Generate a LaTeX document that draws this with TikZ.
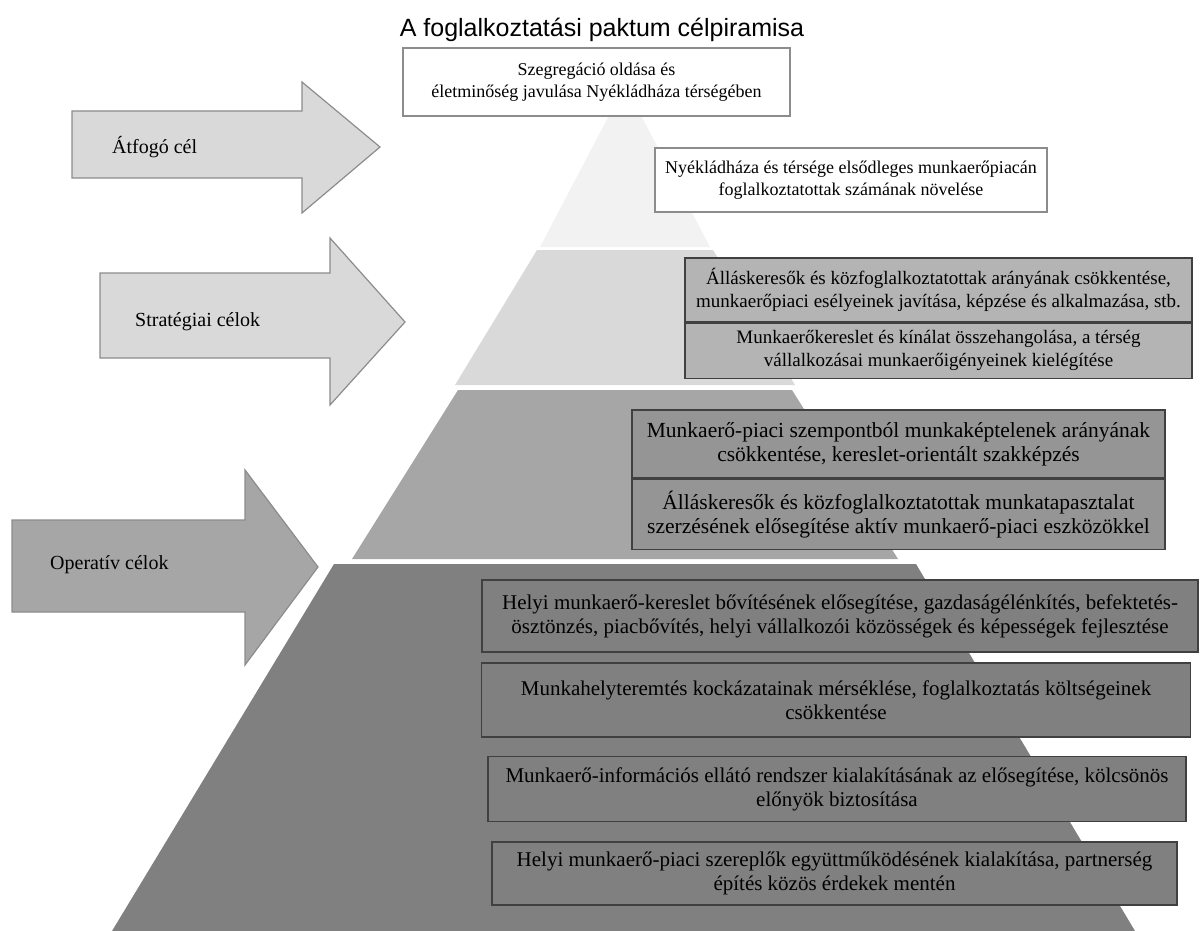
\documentclass[tikz,border=0pt]{standalone}
\usepackage{fontspec}
\setmainfont{Liberation Serif}
\newfontfamily\titlefont{Liberation Sans}
\usetikzlibrary{positioning}
\definecolor{cpTierA}{HTML}{F2F2F2}
\definecolor{cpTierB}{HTML}{D9D9D9}
\definecolor{cpTierC}{HTML}{A6A6A6}
\definecolor{cpTierD}{HTML}{808080}
\definecolor{cpEdge}{HTML}{8C8C8C}
\definecolor{cpDark}{HTML}{404040}
\definecolor{cpStrat}{HTML}{B4B4B4}
\definecolor{cpOper}{HTML}{959595}
\tikzset{
  cpbox/.style={
    draw=cpDark, line width=1.2pt, align=center, inner sep=0pt,
    font=\fontsize{19}{23}\selectfont
  },
  whitebox/.style={cpbox, fill=white, draw=cpEdge},
  stratbox/.style={cpbox, fill=cpStrat},
  operbox/.style={cpbox, fill=cpOper, font=\fontsize{21.5}{24}\selectfont},
  localbox/.style={cpbox, fill=cpTierD, font=\fontsize{21}{24}\selectfont},
  goalarrow/.style={draw=cpEdge, line width=1.2pt, line join=miter},
  goallabel/.style={anchor=west, inner sep=0pt, font=\fontsize{20}{24}\selectfont},
  titletext/.style={font=\titlefont\fontsize{25}{30}\selectfont, inner sep=0pt}
}
\begin{document}
\begin{tikzpicture}[x=1pt, y=-1pt]
  \useasboundingbox (0,0) rectangle (1204,931);
  % pyramid tiers
  \foreach \col/\ytop/\ltop/\rtop/\ybot/\lbot/\rbot in {
    cpTierA/85/625/625/247/540/710, cpTierB/250/537/713/385/455/795,
    cpTierC/390/458/792/559/352/898, cpTierD/564/334/916/931/112/1135}{
    \fill[\col] (\ltop,\ytop) -- (\rtop,\ytop) -- (\rbot,\ybot) -- (\lbot,\ybot) -- cycle;
  }
  % arrows
  \foreach \xs/\yst/\ysb/\xh/\yht/\yhb/\xt/\ym/\col in {
    72/111/178/302/82/213/380/147/cpTierB, 100/273/358/330/238/405/405/322/cpTierB,
    12/520/612/245/470/665/318/567/cpTierC}{
    \draw[goalarrow, fill=\col] (\xs,\yst) -- (\xh,\yst) -- (\xh,\yht) -- (\xt,\ym)
      -- (\xh,\yhb) -- (\xh,\ysb) -- (\xs,\ysb) -- cycle;
  }
  \node[goallabel] (lblOverall) at (112,147) {Átfogó cél};
  \node[goallabel] (lblStrategic) at (135,322) {Stratégiai célok};
  \node[goallabel] (lblOperative) at (50,565) {Operatív célok};

  \node[titletext] (title) at (602,30) {A foglalkoztatási paktum célpiramisa};

  \node[whitebox, minimum width=387, minimum height=68, font=\fontsize{18}{22}\selectfont] (boxOverall) at (596.5,82)
    {Szegregáció oldása és\\életminőség javulása Nyékládháza térségében};
  \node[whitebox, minimum width=392, minimum height=64, font=\fontsize{18}{22}\selectfont] (boxMarket) at (851,180)
    {Nyékládháza és térsége elsődleges munkaerőpiacán\\foglalkoztatottak számának növelése};

  \node[stratbox, minimum width=507, minimum height=64] (boxStratA) at (938.5,290)
    {Álláskeresők és közfoglalkoztatottak arányának csökkentése,\\munkaerőpiaci esélyeinek javítása, képzése és alkalmazása, stb.};
  \node[stratbox, minimum width=507, minimum height=55, below=0pt of boxStratA] (boxStratB)
    {Munkaerőkereslet és kínálat összehangolása, a térség\\vállalkozásai munkaerőigényeinek kielégítése};

  \node[operbox, minimum width=533, minimum height=68] (boxOperA) at (898.5,444)
    {Munkaerő-piaci szempontból munkaképtelenek arányának\\csökkentése, kereslet-orientált szakképzés};
  \node[operbox, minimum width=533, minimum height=70, below=0pt of boxOperA] (boxOperB)
    {Álláskeresők és közfoglalkoztatottak munkatapasztalat\\szerzésének elősegítése aktív munkaerő-piaci eszközökkel};

  \node[localbox, minimum width=716, minimum height=72] (boxLocalA) at (840,616)
    {Helyi munkaerő-kereslet bővítésének elősegítése, gazdaságélénkítés, befektetés-\\ösztönzés, piacbővítés, helyi vállalkozói közösségek és képességek fejlesztése};
  \node[localbox, minimum width=709, minimum height=74] (boxLocalB) at (836,700)
    {Munkahelyteremtés kockázatainak mérséklése, foglalkoztatás költségeinek\\csökkentése};
  \node[localbox, minimum width=698, minimum height=65] (boxLocalC) at (837,789)
    {Munkaerő-információs ellátó rendszer kialakításának az elősegítése, kölcsönös\\előnyök biztosítása};
  \node[localbox, minimum width=685, minimum height=63] (boxLocalD) at (834.5,873.5)
    {Helyi munkaerő-piaci szereplők együttműködésének kialakítása, partnerség\\építés közös érdekek mentén};
\end{tikzpicture}
\end{document}
